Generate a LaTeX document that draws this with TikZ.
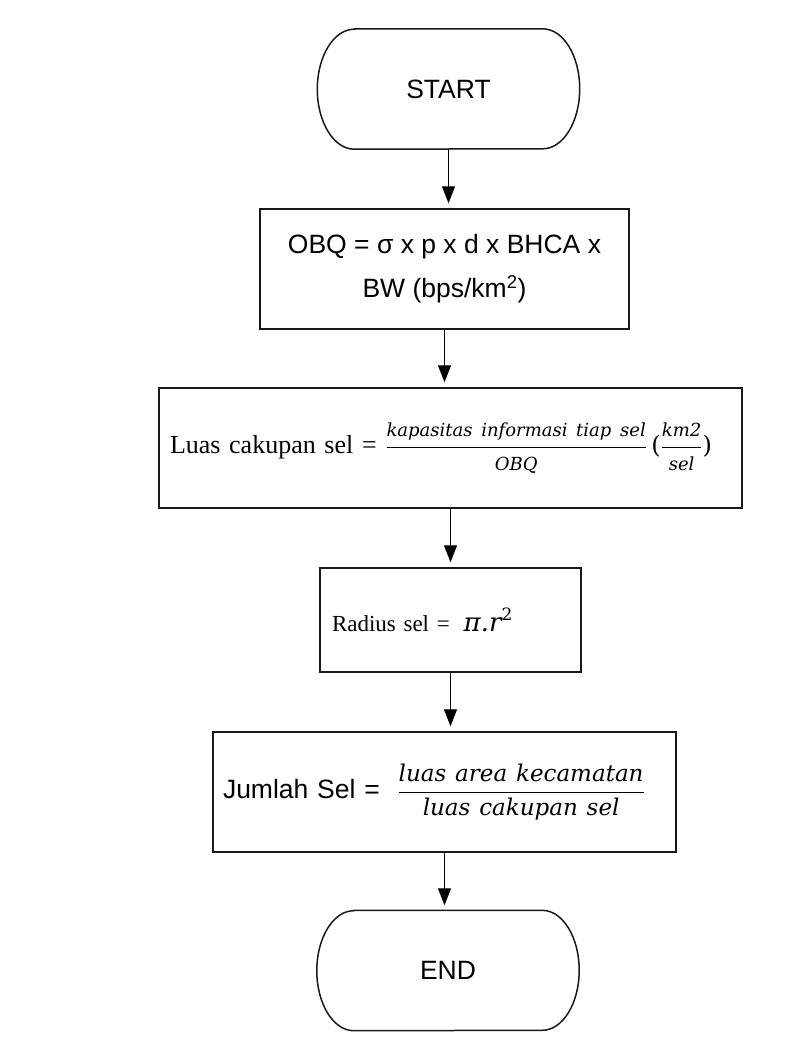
\documentclass[tikz,border=0pt]{standalone}
\usepackage{fontspec}
\setmainfont{Liberation Serif}
\newfontfamily\arialf{Liberation Sans}
\newfontfamily\timesf{Liberation Serif}
\newfontfamily\cmf{DejaVu Serif}
\usetikzlibrary{arrows.meta}
\newcommand\cmi{\cmf\itshape}
\newcommand\terminal[1]{%
  \draw[boxline] ([xshift=37pt]#1.north west) -- ([xshift=-37pt]#1.north east)
    arc[start angle=90,end angle=-90,x radius=37pt,y radius=60pt]
    -- ([xshift=37pt]#1.south west)
    arc[start angle=270,end angle=90,x radius=37pt,y radius=60pt] -- cycle;}
\tikzset{
  boxline/.style={line width=1.5pt,draw=black!90},
  termbox/.style={draw=none,inner sep=0pt,minimum width=262pt,minimum height=120pt,
    font=\arialf\fontsize{26.5}{30}\selectfont},
  procbox/.style={boxline,rectangle,inner ysep=0pt},
  flowarrow/.style={line width=1.3pt,-{Triangle[width=13pt,length=17pt]},shorten >=5pt}
}
\begin{document}
\begin{tikzpicture}[x=1pt,y=-1pt]
\useasboundingbox[fill=white] (0,0) rectangle (804,1046);

\node[termbox] (start) at (448.5,89) {START};
\terminal{start}

\node[procbox,minimum width=369pt,minimum height=120pt,align=center,
  font=\arialf\fontsize{26.5}{44}\selectfont] (obq) at (444.5,269)
  {OBQ = σ x p x d x BHCA x\\BW (bps/km\textsuperscript{2})};

\node[procbox,minimum height=120pt,inner xsep=11pt,text width=561pt,align=left,
  font=\timesf\fontsize{26}{30}\selectfont] (luas) at (450.5,448)
  {Luas cakupan sel =\ $\displaystyle\frac{\hbox{\fontsize{18}{20}\cmi kapasitas informasi tiap sel}}{\hbox{\fontsize{18}{20}\cmi OBQ}}$\,{\fontsize{24}{26}\cmf(}$\displaystyle\frac{\hbox{\fontsize{18}{20}\cmi km2}}{\hbox{\fontsize{18}{20}\cmi sel}}${\fontsize{24}{26}\cmf)}};

\node[procbox,minimum height=104pt,inner xsep=12pt,text width=237pt,align=left,
  font=\timesf\fontsize{23}{28}\selectfont] (rad) at (450.5,620)
  {Radius sel =\hspace{14pt}{\fontsize{26}{28}\cmi π.r\raisebox{0.45em}{\fontsize{17}{18}\cmf\upshape 2}}};

\node[procbox,minimum height=120pt,inner xsep=10pt,text width=443pt,align=left,
  font=\arialf\fontsize{26.5}{30}\selectfont] (jml) at (444.5,792)
  {Jumlah Sel = \ $\displaystyle\frac{\hbox{\fontsize{23}{26}\cmi luas area kecamatan}}{\hbox{\fontsize{23}{26}\cmi luas cakupan sel}}$};

\node[termbox] (end) at (448,970.5) {END};
\terminal{end}

\draw[flowarrow] (start.south) -- (start.south |- obq.north);
\draw[flowarrow] (obq.south) -- (obq.south |- luas.north);
\draw[flowarrow] (luas.south) -- (luas.south |- rad.north);
\draw[flowarrow] (rad.south) -- (rad.south |- jml.north);
\draw[flowarrow] (jml.south) -- (jml.south |- end.north);
\end{tikzpicture}
\end{document}
